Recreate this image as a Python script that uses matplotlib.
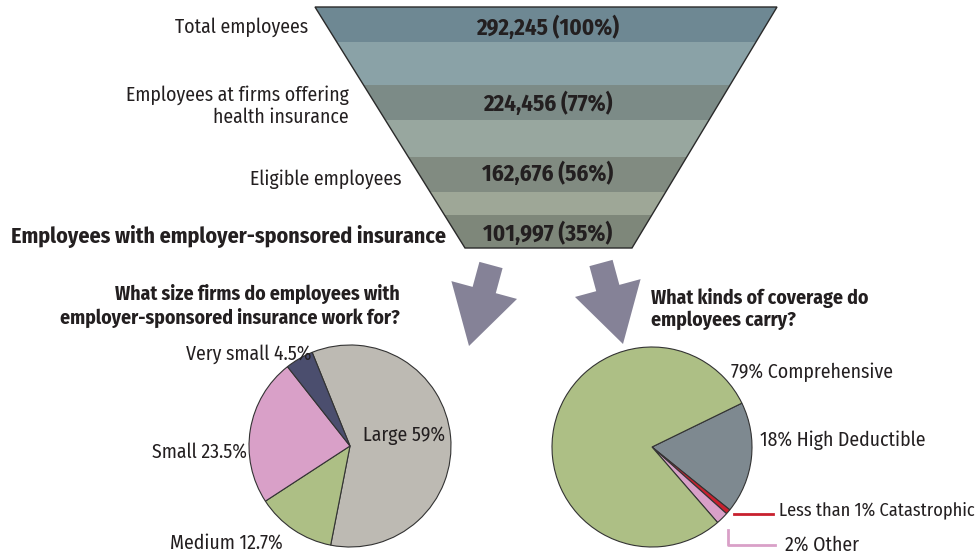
import matplotlib.pyplot as plt
from matplotlib.patches import Polygon, FancyArrow
import numpy as np

plt.rcParams['font.family'] = ['Fira Sans Condensed', 'DejaVu Sans']
plt.rcParams['font.stretch'] = 'condensed'

# === data === #
funnel_labels = ['Total employees', 'Employees at firms offering\nhealth insurance',
                 'Eligible employees', 'Employees with employer-sponsored insurance']
funnel_counts = [292245, 224456, 162676, 101997]
funnel_pcts = [100, 77, 56, 35]

size_labels = ['Large', 'Medium', 'Small', 'Very small']
size_pcts = [59, 12.7, 23.5, 4.5]
size_colors = ['#bdbab3', '#adbf85', '#d9a0c8', '#4b4e6e']

cov_labels = ['High Deductible', 'Catastrophic', 'Other', 'Comprehensive']
cov_pcts = [18, 0.8, 2, 79]
cov_colors = ['#7e8990', '#c8202e', '#d9a0c8', '#adbf85']

ink = '#231f20'
fs = 14.2

fig = plt.figure(figsize=(9.76, 5.58), dpi=100)
ax = fig.add_axes([0, 0, 1, 1])

# === funnel === #
top_y, bot_y = 7, 248
top_l, top_r = 315, 777
bot_l, bot_r = 465, 632

def edges(y):
    t = (y - top_y) / (bot_y - top_y)
    return top_l + t * (bot_l - top_l), top_r + t * (bot_r - top_r)

bands = [(7, 42), (42, 85), (85, 120), (120, 157), (157, 192), (192, 215), (215, 248)]
band_colors = ['#6e8893', '#8aa2a7', '#7c8b87', '#98a79f', '#818b81', '#9ea797', '#7e877a']
for (y0, y1), c in zip(bands, band_colors):
    l0, r0 = edges(y0)
    l1, r1 = edges(y1)
    ax.add_patch(Polygon([(l0, y0), (r0, y0), (r1, y1), (l1, y1)], closed=True,
                         facecolor=c, edgecolor='none'))
ax.add_patch(Polygon([(top_l, top_y), (top_r, top_y), (bot_r, bot_y), (bot_l, bot_y)],
                     closed=True, facecolor='none', edgecolor='#2a2a2a', linewidth=1.0))

value_y = [28, 104, 174, 234]
label_pos = [(308, 27), (349, 106), (401, 179), (446, 236)]
for i in range(4):
    ax.text(548, value_y[i], f'{funnel_counts[i]:,} ({funnel_pcts[i]}%)',
            ha='center', va='center', fontsize=16.5, fontweight='bold', color=ink)
    bold = i == 3
    ax.text(label_pos[i][0], label_pos[i][1], funnel_labels[i], ha='right', va='center',
            fontsize=15.8 if bold else fs, fontweight='bold' if bold else 'normal',
            color=ink, linespacing=1.15)

# === arrows === #
arrow_kw = dict(width=24, head_width=68, head_length=58, length_includes_head=True,
                facecolor='#858297', edgecolor='none')
ax.add_patch(FancyArrow(491, 265, -22, 81, **arrow_kw))
ax.add_patch(FancyArrow(601, 263, 22, 81, **arrow_kw))

# === titles === #
ax.text(400, 306, 'What size firms do employees with\nemployer-sponsored insurance work for?',
        ha='right', va='center', fontsize=fs, fontweight='bold', color=ink, linespacing=1.2)
ax.text(651, 309, 'What kinds of coverage do\nemployees carry?',
        ha='left', va='center', fontsize=fs, fontweight='bold', color=ink, linespacing=1.2)

# === pies (y axis is inverted, so counterclock in data = clockwise on screen) === #
wp = dict(edgecolor='#333333', linewidth=0.8)
ax.pie(size_pcts, colors=size_colors, center=(350, 446), radius=101,
       startangle=-112, counterclock=True, wedgeprops=wp, frame=True, normalize=True)
ax.pie(cov_pcts, colors=cov_colors, center=(652, 447), radius=100,
       startangle=-26, counterclock=True, wedgeprops=wp, frame=True, normalize=True)

ax.text(404, 435, f'{size_labels[0]} {size_pcts[0]:g}%', ha='center', va='center',
        fontsize=fs, color=ink)
ax.text(283, 543, f'{size_labels[1]} {size_pcts[1]:g}%', ha='right', va='center',
        fontsize=fs, color=ink)
ax.text(247, 452, f'{size_labels[2]} {size_pcts[2]:g}%', ha='right', va='center',
        fontsize=fs, color=ink)
ax.text(312, 354, f'{size_labels[3]} {size_pcts[3]:g}%', ha='right', va='center',
        fontsize=fs, color=ink)

ax.text(731, 372, f'{cov_pcts[3]:g}% {cov_labels[3]}', ha='left', va='center',
        fontsize=fs, color=ink)
ax.text(760, 440, f'{cov_pcts[0]:g}% {cov_labels[0]}', ha='left', va='center',
        fontsize=fs, color=ink)
ax.text(779, 510, f'Less than 1% {cov_labels[1]}', ha='left', va='center',
        fontsize=13.2, color=ink)
ax.text(785, 545, f'{cov_pcts[2]:g}% {cov_labels[2]}', ha='left', va='center',
        fontsize=fs, color=ink)
ax.plot([734, 773], [514, 514], color=cov_colors[1], linewidth=2)
ax.plot([728, 728, 775], [530, 545, 545], color=cov_colors[2], linewidth=2)

ax.set_xlim(0, 976)
ax.set_ylim(558, 0)
ax.set_aspect('auto')
ax.axis('off')

fig.savefig('out.png', dpi=100)
